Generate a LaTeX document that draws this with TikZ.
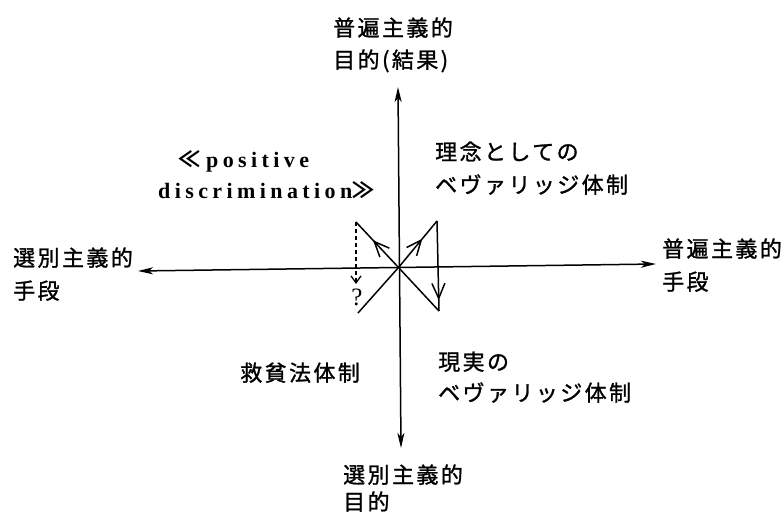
\documentclass[tikz,border=0pt]{standalone}
\usepackage{fontspec}
\setmainfont{Liberation Serif}
\newfontfamily\cjk{Noto Sans CJK JP}[LetterSpace=11,FakeBold=1.2]
\newfontfamily\cjkplain{Noto Sans CJK JP}
\newfontfamily\lat{Liberation Serif}[LetterSpace=20]
\usetikzlibrary{arrows.meta,decorations.markings}
\tikzset{
  jp/.style={font=\cjk\fontsize{22}{26}\selectfont, inner sep=0pt, anchor=base west},
  lt/.style={font=\lat\bfseries\fontsize{22}{26}\selectfont, inner sep=0pt, anchor=base west},
  axisline/.style={line width=1.5pt, {Stealth[length=15pt,width=7pt,inset=4pt]}-{Stealth[length=15pt,width=7pt,inset=4pt]}},
  flow/.style={line width=1.5pt},
  midarrow/.style={postaction={decorate}, decoration={markings, mark=at position #1 with {\arrow{Straight Barb[length=15pt,width=13pt,line width=1.5pt]}}}},
  dasharrow/.style={line width=1.3pt, dashed, dash pattern=on 4pt off 3pt, -{Straight Barb[length=7pt,width=10pt,line width=1.3pt]}}
}
\begin{document}
\begin{tikzpicture}[x=1pt,y=-1pt]
\useasboundingbox (0,0) rectangle (784,514);
% axis end points
\coordinate (top) at (398,87);
\coordinate (bot) at (401,448);
\coordinate (lft) at (138,271);
\coordinate (rgt) at (656,264);
\draw[axisline] (bot) -- (top);
\draw[axisline] (lft) -- (rgt);
% inner figure
\coordinate (C) at (398.5,267.5);
\coordinate (LL) at (358,313);
\coordinate (UR) at (437,221);
\coordinate (LR) at (439,311);
\coordinate (UL) at (356,222);
\coordinate (Q) at (356,284);
\draw[flow] (LL) -- (C);
\draw[flow, midarrow=0.62] (C) -- (UR);
\draw[flow, midarrow=0.88] (UR) -- (LR);
\draw[flow] (LR) -- (C);
\draw[flow, midarrow=0.6] (C) -- (UL);
\draw[dasharrow] (UL) -- (Q);
\node[font=\fontsize{25}{28}\selectfont, inner sep=0pt] (q) at (357,297) {?};
% labels
\node[jp] (topA) at (333,36) {普遍主義的};
\node[jp] (topB) at (333,68) {目的(結果)};
\node[jp] (idealA) at (435,160) {理念としての};
\node[jp] (idealB) at (435,193) {ベヴァリッジ体制};
\node[lt] (posA) at (178,167) {{\cjkplain\fontsize{22}{26}\selectfont ≪}\hspace{6pt}positive};
\node[lt] (posB) at (158,198) {discrimination{\cjkplain\fontsize{22}{26}\selectfont ≫}};
\node[jp] (leftA) at (13,266) {選別主義的};
\node[jp] (leftB) at (13,299) {手段};
\node[jp] (rightA) at (662,257) {普遍主義的};
\node[jp] (rightB) at (662,290) {手段};
\node[jp] (poor) at (240,381) {救貧法体制};
\node[jp] (realA) at (438,370) {現実の};
\node[jp] (realB) at (438,401) {ベヴァリッジ体制};
\node[jp] (botA) at (343,483) {選別主義的};
\node[jp] (botB) at (343,510) {目的};
\end{tikzpicture}
\end{document}
